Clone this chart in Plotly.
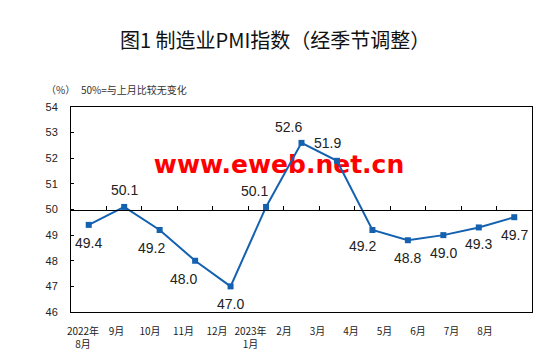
import plotly.graph_objects as go

# ---- data ----
months = ["2022年<br>8月", "9月", "10月", "11月", "12月", "2023年<br>1月", "2月",
          "3月", "4月", "5月", "6月", "7月", "8月"]
pmi = [49.4, 50.1, 49.2, 48.0, 47.0, 50.1, 52.6, 51.9, 49.2, 48.8, 49.0, 49.3, 49.7]
y_ticks = [46, 47, 48, 49, 50, 51, 52, 53, 54]

# ---- label offsets (style) ----
label_dx = [0, 0, -8, -12, 0, -12, -13, -9, -10, 0, 0, 0, 0]
label_dy = [18, -17, 18, 18, 18, -16, -16, -18, 16, 18, 18, 17, 18]

W, H = 555, 363
L, R, T, B = 71, 23, 107, 45
PW, PH = W - L - R, H - T - B

xs = list(range(len(pmi)))
LINE = "#1461B0"
n = len(pmi)
YMIN, YMAX = 46, 54
XMIN, XMAX = -0.5, n - 0.5


def px_to_data(px, py):
    return (XMIN + (px - L) / PW * (XMAX - XMIN),
            YMAX - (py - T) / PH * (YMAX - YMIN))


def px_to_paper(px, py):
    return (px - L) / PW, 1 - (py - T) / PH


fig = go.Figure()

# watermark behind the line
wx, wy = px_to_data(279, 168)
fig.add_trace(go.Scatter(
    x=[wx], y=[wy], mode="text", text=["<b>www.eweb.net.cn</b>"],
    textposition="middle center",
    textfont=dict(family="DejaVu Sans", size=25, color="#FF0000"),
    hoverinfo="skip", showlegend=False, cliponaxis=False))

fig.add_trace(go.Scatter(
    x=xs, y=pmi, mode="lines+markers",
    line=dict(color=LINE, width=2),
    marker=dict(symbol="square", size=6, color=LINE),
    hoverinfo="skip", showlegend=False, xaxis="x", yaxis="y"))

annotations = []
for i, v in enumerate(pmi):
    annotations.append(dict(
        x=xs[i], y=v, xref="x", yref="y", text=f"{v:.1f}", showarrow=False,
        xanchor="center", yanchor="middle",
        xshift=label_dx[i], yshift=-label_dy[i],
        font=dict(family="Liberation Sans, Arial", size=14, color="#222222")))

tx, ty = px_to_paper(275, 38)
annotations.append(dict(
    x=tx, y=ty, xref="paper", yref="paper", text="图1 制造业PMI指数（经季节调整）",
    showarrow=False, xanchor="center", yanchor="middle",
    font=dict(family="Noto Sans CJK SC", size=20, color="#111111")))
sx, sy = px_to_paper(44, 89)
annotations.append(dict(
    x=sx, y=sy, xref="paper", yref="paper", text="（%）", showarrow=False,
    xanchor="left", yanchor="middle",
    font=dict(family="Noto Sans CJK SC", size=10, color="#333333")))
sx, sy = px_to_paper(79, 89)
annotations.append(dict(
    x=sx, y=sy, xref="paper", yref="paper", text="50%=与上月比较无变化",
    showarrow=False, xanchor="left", yanchor="middle",
    font=dict(family="Noto Sans CJK SC", size=10, color="#333333")))

# secondary category axis for the shifted labels (Excel-like)
lab_left = (L - 83) / 33.5
lab_right = (L + PW - 83) / 33.5

fig.update_layout(
    width=W, height=H, margin=dict(l=L, r=R, t=T, b=B),
    paper_bgcolor="white", plot_bgcolor="white",
    xaxis=dict(range=[XMIN, XMAX], anchor="free", position=0.5,
               showline=True, linecolor="#000000", linewidth=1,
               ticks="inside", ticklen=4, tickcolor="#000000",
               tickvals=[i + 0.5 for i in range(n - 1)],
               showticklabels=False, showgrid=False, zeroline=False),
    xaxis2=dict(overlaying="x", side="bottom", anchor="y",
                range=[lab_left, lab_right], tickvals=xs, ticktext=months,
                tickfont=dict(family="Noto Sans CJK SC", size=10, color="#222222"),
                showline=True, mirror=True, linecolor="#000000", linewidth=1,
                ticks="", ticklabelstandoff=10, showgrid=False, zeroline=False),
    yaxis=dict(range=[YMIN, YMAX], tickvals=y_ticks, showline=True, mirror=True,
               linecolor="#000000", linewidth=1, ticks="inside", ticklen=3,
               tickcolor="#000000", showgrid=False, zeroline=False,
               tickfont=dict(family="Liberation Sans, Arial", size=11, color="#222222"),
               ticklabelstandoff=10),
    annotations=annotations,
)

# invisible trace so xaxis2 renders
fig.add_trace(go.Scatter(x=[xs[0]], y=[pmi[0]], xaxis="x2", yaxis="y",
                         mode="markers", marker=dict(opacity=0),
                         hoverinfo="skip", showlegend=False))

fig.write_html("out.html")
